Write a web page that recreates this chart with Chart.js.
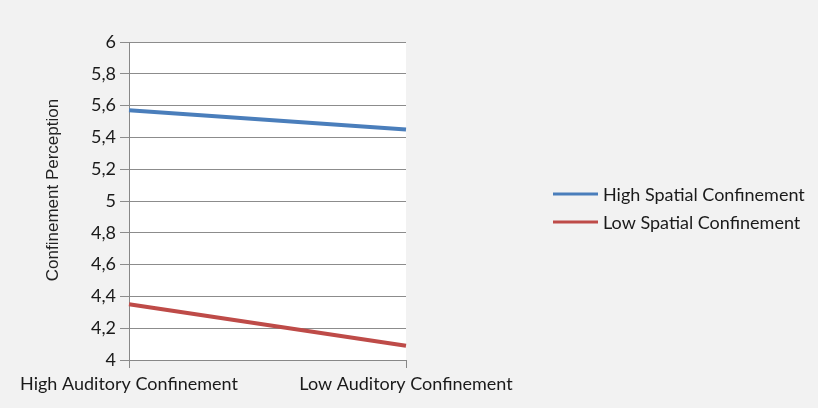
<!DOCTYPE html>
<html>
<head>
<meta charset="utf-8">
<script src="https://cdn.jsdelivr.net/npm/chart.js@4"></script>
<style>
    html, body { margin: 0; padding: 0; background: #f2f2f2; }
    #wrap { width: 818px; height: 408px; }
</style>
</head>
<body>
<div id="wrap"><canvas id="chart" width="818" height="408"></canvas></div>
<script>
    const categories = ['High Auditory Confinement', 'Low Auditory Confinement'];
    const seriesNames = ['High Spatial Confinement', 'Low Spatial Confinement'];
    const highSpatial = [5.57, 5.45];
    const lowSpatial = [4.35, 4.09];
    const seriesColors = ['#4a7ebb', '#be4b48'];
    const yTitle = 'Confinement Perception';

    const tickFont = { family: 'Lato', size: 18 };

    // white plot area behind the lines
    const plotBg = {
        id: 'plotBg',
        beforeDraw(chart) {
            const a = chart.chartArea;
            const ctx = chart.ctx;
            ctx.save();
            ctx.fillStyle = '#ffffff';
            ctx.fillRect(a.left, a.top, a.right - a.left, a.bottom - a.top);
            ctx.restore();
        }
    };

    // y title and legend drawn by hand so they sit where the original has them
    const extras = {
        id: 'extras',
        afterDraw(chart) {
            const ctx = chart.ctx;
            ctx.save();
            ctx.fillStyle = '#222';
            ctx.font = '17px "Liberation Sans"';
            ctx.textAlign = 'center';
            ctx.textBaseline = 'middle';
            ctx.translate(53, 190);
            ctx.rotate(-Math.PI / 2);
            ctx.fillText(yTitle, 0, 0);
            ctx.restore();

            ctx.save();
            ctx.font = '18px Lato';
            ctx.textBaseline = 'middle';
            chart.data.datasets.forEach((ds, i) => {
                const y = 194 + i * 28;
                ctx.strokeStyle = ds.borderColor;
                ctx.lineWidth = 3;
                ctx.beginPath();
                ctx.moveTo(553, y);
                ctx.lineTo(598, y);
                ctx.stroke();
                ctx.fillStyle = '#1a1a1a';
                ctx.fillText(ds.label, 603, y + 1);
            });
            ctx.restore();
        }
    };

    new Chart(document.getElementById('chart').getContext('2d'), {
        type: 'line',
        data: {
            labels: categories,
            datasets: [
                { label: seriesNames[0], data: highSpatial, borderColor: seriesColors[0], borderWidth: 4, pointRadius: 0, tension: 0 },
                { label: seriesNames[1], data: lowSpatial, borderColor: seriesColors[1], borderWidth: 4, pointRadius: 0, tension: 0 }
            ]
        },
        options: {
            responsive: false,
            animation: false,
            layout: { padding: { top: 42, right: 412, left: 0, bottom: 0 } },
            plugins: { legend: { display: false }, tooltip: { enabled: false } },
            scales: {
                x: {
                    offset: false,
                    afterFit(scale) { scale.height = 48; },
                    grid: { display: true, drawOnChartArea: false, color: '#888', tickLength: 8 },
                    border: { color: '#888' },
                    ticks: { color: '#1a1a1a', font: tickFont, padding: 5, maxRotation: 0, autoSkip: false }
                },
                y: {
                    min: 4,
                    max: 6,
                    afterFit(scale) { scale.width = 129; },
                    grid: { color: '#8c8c8c', tickLength: 9 },
                    border: { color: '#888' },
                    ticks: {
                        stepSize: 0.2,
                        color: '#1a1a1a',
                        font: tickFont,
                        padding: 4,
                        callback: v => String(Math.round(v * 10) / 10).replace('.', ',')
                    }
                }
            }
        },
        plugins: [plotBg, extras]
    });
</script>
</body>
</html>
